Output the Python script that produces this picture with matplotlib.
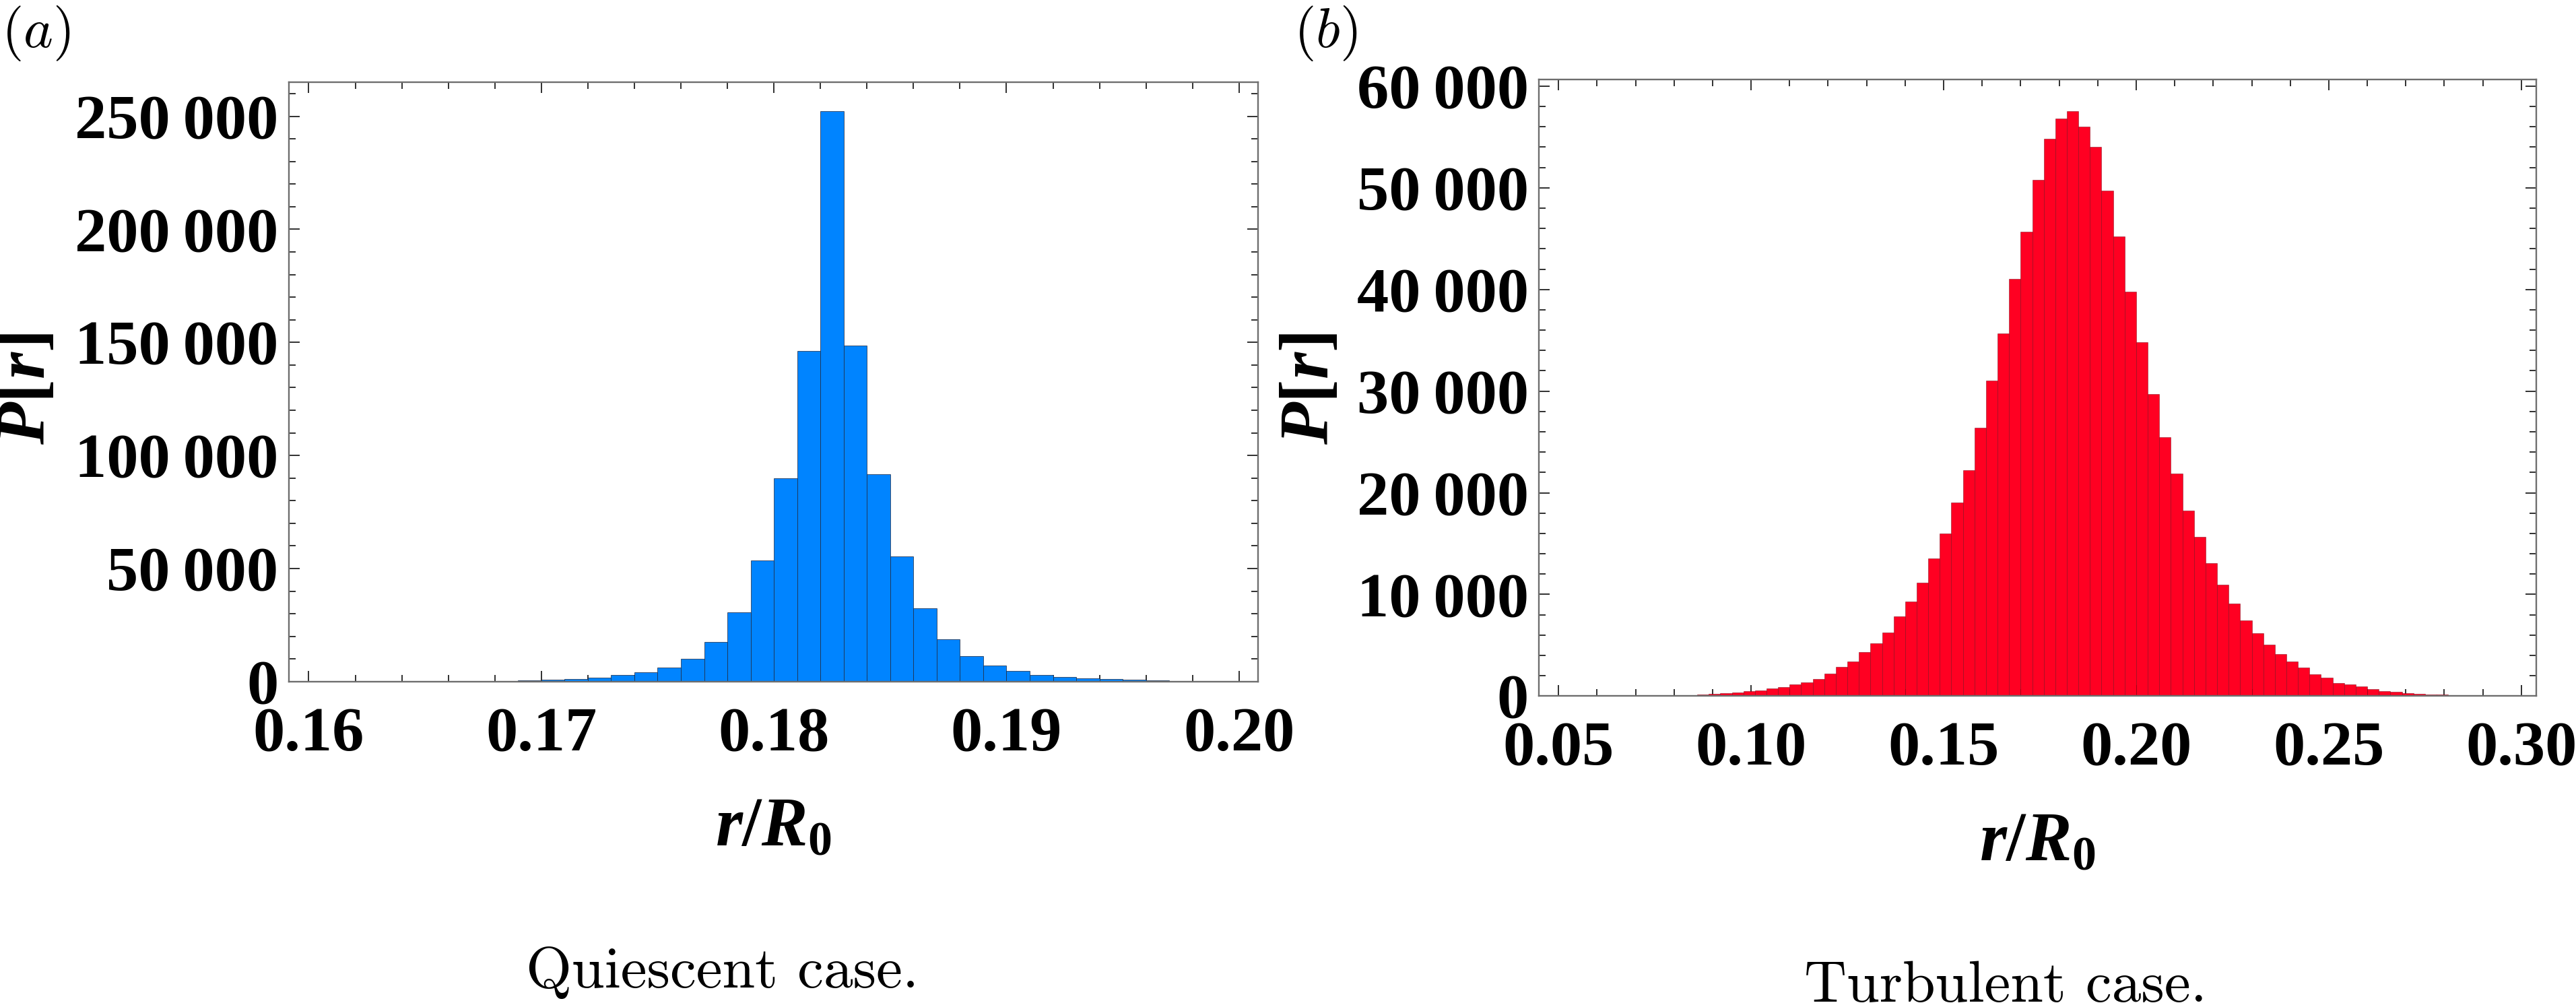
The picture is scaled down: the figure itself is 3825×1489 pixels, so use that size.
import numpy as np
import matplotlib
matplotlib.use("Agg")
import matplotlib.pyplot as plt
from matplotlib.ticker import FixedLocator, MultipleLocator

# ---------------- data ----------------
# (a) Quiescent case: bins of width 0.001 starting at 0.160
quiescent_bin_start = 0.160
quiescent_bin_width = 0.001
quiescent_counts = [10, 20, 20, 30, 40, 60, 90, 130, 260, 500,
                    800, 1300, 1830, 3000, 4100, 6100, 10200, 17700, 30700, 53700,
                    89800, 146300, 252300, 148700, 91800, 55400, 32300, 18800, 11400, 7100,
                    4700, 3000, 2100, 1500, 1150, 780, 520, 260, 130, 60]

# (b) Turbulent case: bins of width 0.003 starting at 0.050
turbulent_bin_start = 0.050
turbulent_bin_width = 0.003
turbulent_counts = [0, 0, 0, 0, 0, 0, 0, 0, 0, 20,
                    40, 60, 150, 220, 265, 350, 460, 570, 730, 900,
                    1150, 1370, 1700, 2230, 2870, 3420, 4300, 5210, 6220, 7840,
                    9290, 11150, 13530, 16000, 19010, 22240, 26380, 31060, 35670, 41060,
                    45700, 50780, 54840, 56830, 57570, 56010, 54060, 49690, 45200, 39810,
                    34810, 29700, 25440, 21920, 18250, 15640, 13110, 10930, 9090, 7420,
                    6180, 5030, 4100, 3420, 2780, 2140, 1810, 1300, 1150, 950,
                    660, 510, 420, 290, 240, 150, 130, 30, 20, 15,
                    0, 0, 0]

quiescent_xticks = [0.16, 0.17, 0.18, 0.19, 0.20]
quiescent_xticklabels = ["0.16", "0.17", "0.18", "0.19", "0.20"]
quiescent_yticks = [0, 50000, 100000, 150000, 200000, 250000]
quiescent_yticklabels = ["0", "50\u2009000", "100\u2009000", "150\u2009000", "200\u2009000", "250\u2009000"]

turbulent_xticks = [0.05, 0.10, 0.15, 0.20, 0.25, 0.30]
turbulent_xticklabels = ["0.05", "0.10", "0.15", "0.20", "0.25", "0.30"]
turbulent_yticks = [0, 10000, 20000, 30000, 40000, 50000, 60000]
turbulent_yticklabels = ["0", "10\u2009000", "20\u2009000", "30\u2009000", "40\u2009000", "50\u2009000", "60\u2009000"]

panel_labels = ["$(a)$", "$(b)$"]
captions = ["Quiescent case.", "Turbulent case."]
xlabel_text = r"$r/R_0$"
ylabel_text = r"$P[r]$"

# ---------------- style ----------------
plt.rcParams["font.family"] = ["Liberation Serif", "DejaVu Serif"]
plt.rcParams["font.weight"] = "bold"
plt.rcParams["mathtext.fontset"] = "custom"
plt.rcParams["mathtext.rm"] = "Liberation Serif:bold"
plt.rcParams["mathtext.it"] = "Liberation Serif:italic:bold"
plt.rcParams["mathtext.bf"] = "Liberation Serif:bold"

BLUE = "#0084ff"
RED = "#ff0022"
FRAME = "#6e6e6e"
TICKC = "#303030"

fig = plt.figure(figsize=(38.25, 14.89), dpi=100)

axL = fig.add_axes([0.1121, 0.3204, 0.3763, 0.5975])
axR = fig.add_axes([0.5974, 0.3060, 0.3872, 0.6146])


def style_axes(ax, xticks, xlabels, yticks, ylabels, xminor, yminor):
    for sp in ax.spines.values():
        sp.set_color(FRAME)
        sp.set_linewidth(1.7)
    ax.xaxis.set_major_locator(FixedLocator(xticks))
    ax.set_xticklabels(xlabels)
    ax.yaxis.set_major_locator(FixedLocator(yticks))
    ax.set_yticklabels(ylabels)
    ax.xaxis.set_minor_locator(MultipleLocator(xminor))
    ax.yaxis.set_minor_locator(MultipleLocator(yminor))
    ax.tick_params(which="both", direction="in", top=True, right=True,
                   color=TICKC, width=1.4)
    ax.tick_params(which="major", length=11.5)
    ax.tick_params(which="minor", length=7)
    ax.tick_params(axis="x", which="major", labelsize=68, pad=27)
    ax.tick_params(axis="y", which="major", labelsize=68, pad=11)
    for lab in ax.get_xticklabels() + ax.get_yticklabels():
        lab.set_fontweight("bold")


# (a) quiescent
q_left = [quiescent_bin_start + i * quiescent_bin_width for i in range(len(quiescent_counts))]
axL.bar(q_left, quiescent_counts, width=quiescent_bin_width, align="edge",
        color=BLUE, edgecolor=(0.12, 0.16, 0.25, 0.75), linewidth=0.7, zorder=2)
axL.set_xlim(0.15914, 0.20082)
axL.set_ylim(0, 265000)
style_axes(axL, quiescent_xticks, quiescent_xticklabels,
           quiescent_yticks, quiescent_yticklabels, 0.002, 10000)

# (b) turbulent
t_left = [turbulent_bin_start + i * turbulent_bin_width for i in range(len(turbulent_counts))]
axR.bar(t_left, turbulent_counts, width=turbulent_bin_width, align="edge",
        color=RED, edgecolor=(0.45, 0.0, 0.05, 0.55), linewidth=0.6, zorder=2)
axR.set_xlim(0.0449, 0.3039)
axR.set_ylim(0, 60640)
style_axes(axR, turbulent_xticks, turbulent_xticklabels,
           turbulent_yticks, turbulent_yticklabels, 0.01, 2000)

# axis labels
for ax, ylx, yly, xly in [(axL, -0.2694, 0.489, -0.2728), (axR, -0.2282, 0.4986, -0.266)]:
    ax.set_ylabel(ylabel_text, fontsize=74, rotation=90, ha="center", va="center")
    ax.yaxis.set_label_coords(ylx, yly)
    ax.set_xlabel(xlabel_text, fontsize=74, va="baseline")
    ax.xaxis.set_label_coords(0.5, xly)

# panel labels
fig.text(0.0005, 0.967, panel_labels[0], fontsize=60, ha="left", va="center",
         math_fontfamily="cm", fontweight="normal")
fig.text(0.5021, 0.967, panel_labels[1], fontsize=60, ha="left", va="center",
         math_fontfamily="cm", fontweight="normal")

# captions
fig.text(0.2803, 0.0157, captions[0], fontsize=63, ha="center", va="baseline",
         family="cmr10", fontweight="normal")
fig.text(0.7786, 0.0013, captions[1], fontsize=63, ha="center", va="baseline",
         family="cmr10", fontweight="normal")

fig.savefig("out.png", dpi=100)
